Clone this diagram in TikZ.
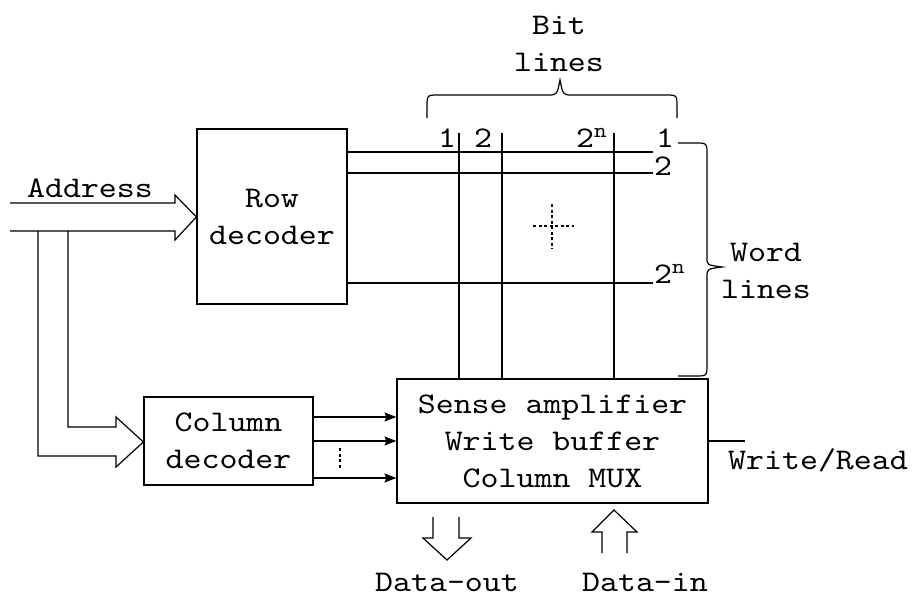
\documentclass[tikz,border=0pt]{standalone}
\usepackage{fontspec}
\setmainfont{lmmono10-regular.otf}[FakeStretch=1.14]
\usetikzlibrary{arrows.meta}
\begin{document}
\begin{tikzpicture}[x=1pt,y=-1pt, line width=1.2pt,
  every node/.style={font=\fontsize{30}{37}\selectfont, inner sep=0pt},
  blk/.style={draw, rectangle, inner sep=0pt, align=center},
  txt/.style={align=center},
  lab/.style={anchor=base},
  labw/.style={anchor=base west},
  sarrow/.style={-{Stealth[length=12pt,width=9pt,inset=2pt]}},
  dots/.style={dash pattern=on 3pt off 2.5pt, line width=2pt}]
\useasboundingbox (0,0) rectangle (914,600);

% blocks
\node[blk, minimum width=150pt, minimum height=175pt] (row) at (272,216.5) {Row\\decoder};
\node[blk, minimum width=169pt, minimum height=88pt] (col) at (228.5,441) {Column\\decoder};
\node[blk, minimum width=311pt, minimum height=124pt] (sense) at (552.5,441) {Sense amplifier\\Write buffer\\Column MUX};

% address fat arrow
\node (addr) at (90,188) {Address};
\coordinate (a0) at (10,203);
\coordinate (a1) at (10,231);
\draw (a0) -- (175,203) -- (175,195) -- (row.west |- 0,217) -- (175,240) -- (175,231) -- (a1);
\draw (68,231) -- (68,427) -- (116,427) -- (116,417) -- (col.west |- 0,442) -- (116,467) -- (116,456) -- (38,456) -- (38,231);

% word lines
\foreach \y/\n in {152/w1,173/w2,283/wn}{
  \coordinate (\n s) at (row.east |- 0,\y);
  \coordinate (\n e) at (653,\y);
  \draw (\n s) -- (\n e);
}
% bit lines
\foreach \x/\n in {459/b1,502/b2,614/bn}{
  \coordinate (\n t) at (\x,133);
  \draw (\n t) -- (\n t |- sense.north);
}

% labels
\node[lab] (lb1) at (447,147) {1};
\node[lab] (lb2) at (483,147) {2};
\node[labw] (lbn) at (575.5,147) {2\textsuperscript{n}};
\node[lab] (lw1) at (665,147) {1};
\node[lab] (lw2) at (663,175) {2};
\node[labw] (lwn) at (653.5,283) {2\textsuperscript{n}};

% dotted cross
\draw[dots] (552,204) -- (552,249);
\draw[dots] (533,226) -- (574,226);

% bit lines brace
\draw (427,118) -- (427,107) .. controls (427,95) .. (439,95) -- (548,95)
  .. controls (557,95) .. (560,80) .. controls (563,95) .. (572,95)
  -- (665,95) .. controls (677,95) .. (677,107) -- (677,118);
\node[txt] (bitl) at (559,44) {Bit\\lines};

% word lines brace
\draw (678,143) -- (695,143) .. controls (707,143) .. (707,155) -- (707,258)
  .. controls (707,265) .. (722,267) .. controls (707,269) .. (707,277)
  -- (707,364) .. controls (707,376) .. (695,376) -- (678,376);
\node[txt] (wordl) at (766,271) {Word\\lines};

% column decoder to sense arrows
\foreach \y in {417,441,478}{
  \draw[sarrow] (col.east |- 0,\y) -- (sense.west |- 0,\y);
}
\draw[dots] (340,448) -- (340,469);

% write/read
\coordinate (wr) at (745,441);
\draw (sense.east |- wr) -- (wr);
\node (wrt) at (818,460) {Write/Read};

% data-out
\coordinate (do) at (447,560);
\draw (433,517) -- (433,538) -- (423,538) -- (do) -- (471,538) -- (459,538) -- (459,517);
\node (dout) at (447,582) {Data-out};
% data-in
\coordinate (di) at (614,510);
\draw (602,553) -- (602,532) -- (592,532) -- (di) -- (637,532) -- (627,532) -- (627,553);
\node (din) at (645,582) {Data-in};
\end{tikzpicture}
\end{document}
